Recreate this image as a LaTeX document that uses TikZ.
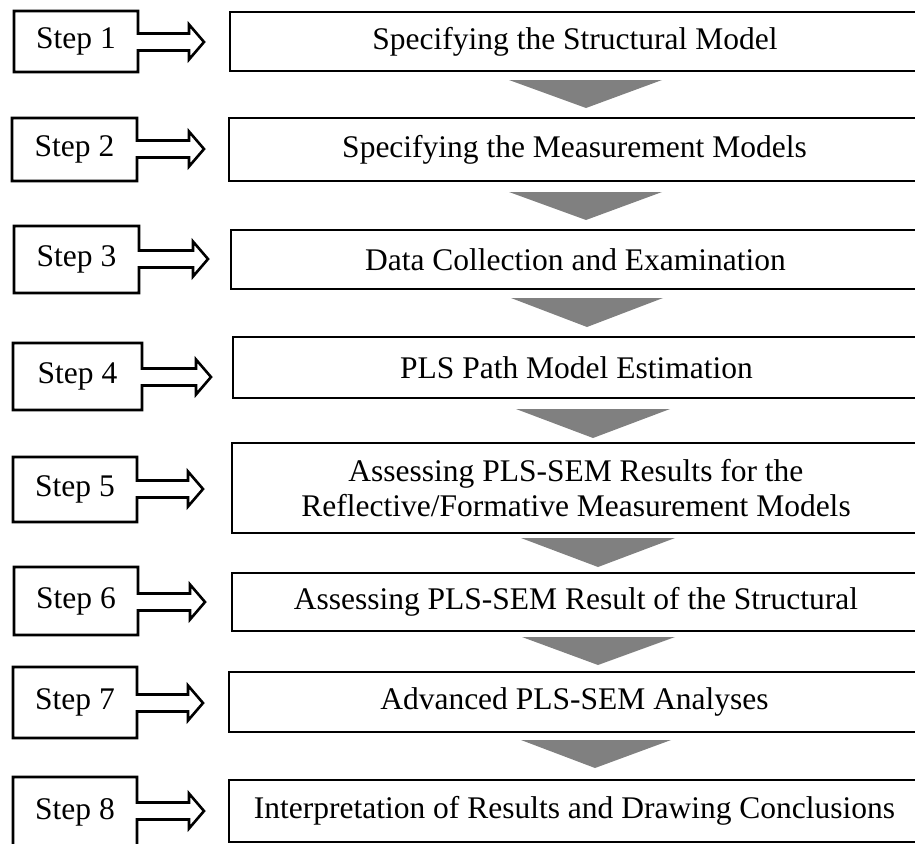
\documentclass[tikz,border=0pt]{standalone}
\usepackage{fontspec}
\setmainfont{Liberation Serif}
\definecolor{trigray}{RGB}{128,128,128}
\newcommand\mainbx[5]{\node[mainbox, minimum width={920-#2}, minimum height={#4-#3}] (#1) at ({(#2+920)/2},{(#3+#4)/2}) {#5};}
% name, number, L, T, B, R, tip, cy
\newcommand\stepshape[8]{%
  \node[steptext] (#1) at ({(#3+#6)/2},{(#4+#5)/2}) {Step #2};
  \draw[outl] (#6,#8-8.5) -- (#7-15,#8-8.5) -- (#7-15,#8-17.5) -- (#7,#8) -- (#7-15,#8+17.5) -- (#7-15,#8+8.5) -- (#6,#8+8.5) -- (#6,#5) -- (#3,#5) -- (#3,#4) -- (#6,#4) -- cycle;}
\newcommand\downtri[5]{\fill[trigray] (#2,#1) -- (#3,#1) -- (#4,#5) -- cycle;}
\tikzset{
  outl/.style={draw=black, line width=2.6pt, line join=miter},
  mainbox/.style={outl, rectangle, inner sep=0pt, outer sep=0pt, font=\fontsize{31.5}{35}\selectfont, align=center},
  steptext/.style={font=\fontsize{31.5}{35}\selectfont, inner sep=0pt}
}
\begin{document}
\begin{tikzpicture}[x=1pt,y=-1pt]
\useasboundingbox (0,0) rectangle (915,843);
% main boxes
\mainbx{b1}{230}{12}{71}{Specifying the Structural Model}
\mainbx{b2}{229}{118}{181}{Specifying the Measurement Models}
\mainbx{b3}{231}{230}{289}{Data Collection and Examination}
\mainbx{b4}{233}{337}{398}{PLS Path Model Estimation}
\mainbx{b5}{232}{443}{533}{Assessing PLS-SEM Results for the\\Reflective/Formative Measurement Models}
\mainbx{b6}{232}{573}{631}{Assessing PLS-SEM Result of the Structural}
\mainbx{b7}{229}{672}{732}{Advanced PLS-SEM Analyses}
\mainbx{b8}{229}{780}{842}{Interpretation of Results and Drawing Conclusions}
% step shapes
\stepshape{s1}{1}{14}{11}{72}{138}{204}{42}
\stepshape{s2}{2}{12}{118}{181}{137}{204}{149}
\stepshape{s3}{3}{14}{226}{293}{139}{208}{259}
\stepshape{s4}{4}{13}{343}{410}{142}{211}{377}
\stepshape{s5}{5}{13}{457}{522}{137}{203}{489}
\stepshape{s6}{6}{14}{567}{635}{138}{205}{602}
\stepshape{s7}{7}{13}{667}{738}{137}{203}{703}
\stepshape{s8}{8}{13}{777}{847}{137}{204}{811}
% down triangles: top, left, right, apex x, apex y
\downtri{80}{509}{662}{586}{108}
\downtri{192}{509}{662}{586}{220}
\downtri{298}{511}{663}{587}{327}
\downtri{409}{516}{670}{593}{438}
\downtri{538}{521}{675}{598}{567}
\downtri{637}{522}{675}{598}{665}
\downtri{740}{521}{671}{595}{768}
\end{tikzpicture}
\end{document}
